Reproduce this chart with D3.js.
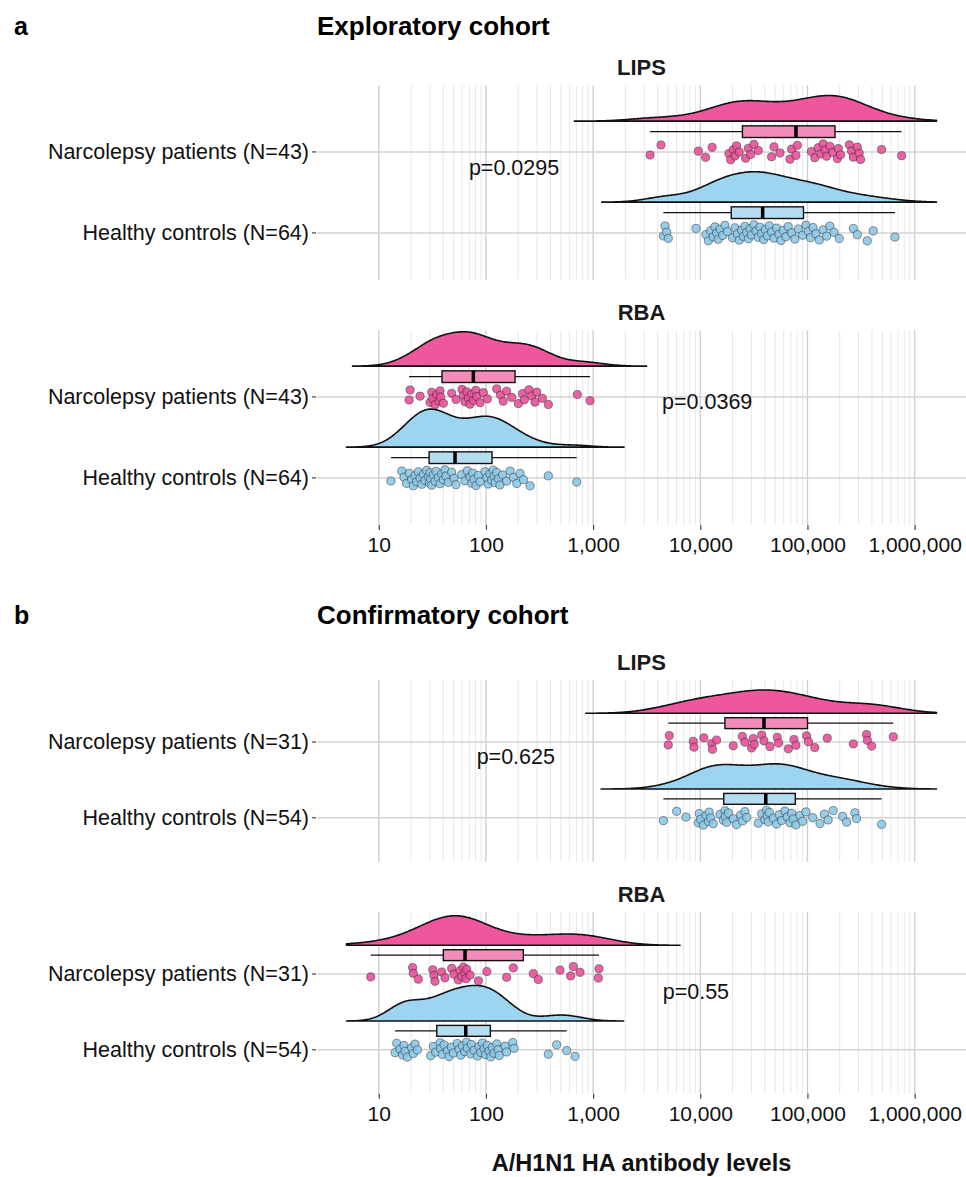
<!DOCTYPE html>
<html>
<head>
<meta charset="utf-8">
<script src="https://cdn.jsdelivr.net/npm/d3@7"></script>
<style>
  body { margin: 0; background: #fff; }
  text { font-family: "Liberation Sans", Arial, sans-serif; }
</style>
</head>
<body>
<div id="chart"></div>
<script>
// antibody levels (one value per subject)
const aLipsNarco = [3400, 4300, 9600, 11200, 12900, 18500, 19200, 20300, 21100, 21800, 23100, 26500, 28100, 29500, 31700, 34800, 46300, 48700, 55400, 68700, 71200, 78100, 80400, 109000, 117000, 126000, 133000, 140000, 146000, 151000, 162000, 172000, 190000, 194000, 204000, 246000, 258000, 268000, 292000, 304000, 313000, 492000, 756000];
const aLipsHealthy = [4520, 4690, 4860, 5030, 9120, 11300, 11900, 12500, 13200, 13700, 14200, 14700, 15300, 16200, 17000, 17900, 20000, 21100, 22200, 23100, 24300, 25200, 26100, 27100, 28100, 29100, 30100, 31700, 33100, 34800, 36100, 37400, 39000, 40400, 42200, 44100, 46300, 48700, 51600, 54200, 56600, 59500, 63000, 66200, 71200, 76400, 82200, 90200, 96800, 102000, 107000, 113000, 120000, 129000, 140000, 151000, 162000, 177000, 198000, 268000, 292000, 361000, 411000, 655000];
const aRbaNarco = [19.2, 19.6, 24.3, 30.1, 31.2, 31.9, 33.5, 34.7, 36.5, 37.3, 37.8, 40.1, 47.9, 52.6, 59.8, 61.6, 63.8, 66.2, 68.6, 71.1, 73.7, 76.3, 80.3, 82.0, 88.1, 94.6, 103, 126, 137, 145, 156, 174, 201, 220, 228, 252, 267, 287, 298, 336, 382, 713, 936];
const aRbaHealthy = [13.0, 16.4, 17.2, 18.2, 19.3, 20.3, 21.0, 21.8, 22.6, 23.4, 24.3, 25.2, 26.1, 27.0, 28.0, 29.0, 29.7, 30.1, 30.5, 31.2, 32.3, 33.5, 34.2, 36.0, 37.3, 38.7, 40.1, 41.5, 42.4, 44.6, 47.9, 50.4, 52.6, 59.4, 63.8, 67.1, 71.1, 73.7, 75.2, 77.4, 80.8, 85.0, 88.1, 98.1, 102, 105, 109, 113, 117, 119, 122, 126, 131, 135, 143, 156, 168, 180, 194, 208, 224, 258, 382, 703];
const bLipsNarco = [5030, 5140, 8610, 8740, 10800, 12800, 13000, 14200, 20300, 24700, 26100, 30100, 31200, 31900, 37400, 39300, 44700, 52300, 53800, 66300, 74800, 78100, 98200, 102000, 117000, 153000, 268000, 356000, 362000, 397000, 632000];
const bLipsHealthy = [4520, 6020, 7350, 9590, 9790, 10100, 10700, 11300, 11900, 12100, 12500, 13200, 15300, 16400, 17000, 17100, 17600, 18300, 20300, 21800, 23800, 24800, 26100, 27100, 34800, 37400, 40100, 41600, 42200, 43100, 44100, 48000, 51600, 54600, 57400, 61700, 64800, 68700, 71200, 73800, 78100, 85100, 90100, 96800, 112000, 131000, 144000, 156000, 174000, 213000, 232000, 277000, 287000, 492000];
const bRbaNarco = [8.42, 20.7, 21.0, 23.4, 31.9, 32.8, 33.5, 38.7, 41.5, 47.9, 50.4, 55.3, 57.3, 59.4, 61.6, 63.8, 65.2, 66.2, 71.1, 85.0, 102, 156, 180, 277, 308, 491, 618, 654, 755, 1119, 1135];
const bRbaHealthy = [14.2, 14.7, 15.8, 16.7, 17.2, 17.6, 18.5, 20.3, 21.0, 21.8, 22.9, 30.5, 32.3, 34.0, 37.3, 37.8, 39.2, 40.7, 43.7, 45.3, 47.6, 49.7, 54.1, 56.1, 58.2, 60.3, 63.4, 66.2, 67.1, 72.1, 73.1, 77.4, 83.2, 86.2, 89.4, 92.6, 96.0, 99.5, 103, 107, 111, 115, 119, 126, 130, 133, 151, 156, 178, 183, 382, 457, 567, 678];

const pLabels = ["p=0.0295", "p=0.0369", "p=0.625", "p=0.55"];
const tickValues = [10, 100, 1000, 10000, 100000, 1000000];
const limits = [5, 1600000];

// layout
const W = 966, H = 1177;
const panelLeft = 317, panelRight = 966;
const pink = {dens: "#ef579c", box: "#f48cbb", pt: "#e8519a"};
const blue = {dens: "#9dd4f0", box: "#b5ddf2", pt: "#8cc8e7"};

const svg = d3.select("#chart").append("svg")
    .attr("width", W)
    .attr("height", H);

// log x scale with 5% expansion on the limits
const lo = Math.log10(limits[0]), hi = Math.log10(limits[1]);
const pad = (hi - lo) * 0.05;
const x = d3.scaleLog()
    .domain([10 ** (lo - pad), 10 ** (hi + pad)])
    .range([panelLeft, panelRight]);

const minorBreaks = [];
for (let e = 1; e <= 5; e++) for (let k = 2; k <= 9; k++) minorBreaks.push(k * 10 ** e);

const gauss = u => Math.exp(-0.5 * u * u) / Math.sqrt(2 * Math.PI);

function densityOf(vals) {
  const lv = vals.map(Math.log10).sort(d3.ascending);
  const n = lv.length;
  const iqr = d3.quantile(lv, 0.75) - d3.quantile(lv, 0.25);
  const bw = 0.9 * Math.min(d3.deviation(lv), iqr / 1.34) * Math.pow(n, -0.2);
  const a = Math.max(lv[0] - 3 * bw, lo), b = Math.min(lv[n - 1] + 3 * bw, hi);
  return d3.range(256).map(i => {
    const t = a + (b - a) * i / 255;
    return [t, d3.sum(lv, v => gauss((t - v) / bw)) / (n * bw)];
  });
}

function boxOf(vals) {
  const lv = vals.map(Math.log10).sort(d3.ascending);
  const q1 = d3.quantile(lv, 0.25), med = d3.quantile(lv, 0.5), q3 = d3.quantile(lv, 0.75);
  const iqr = q3 - q1;
  const wlo = d3.min(lv.filter(v => v >= q1 - 1.5 * iqr));
  const whi = d3.max(lv.filter(v => v <= q3 + 1.5 * iqr));
  return [wlo, q1, med, q3, whi].map(v => 10 ** v);
}

// deterministic spread for the jittered points
const jit = i => ((i * 0.6180339887 + 0.31) % 1) * 2 - 1;

const cohorts = [
  {tag: "a", title: "Exploratory cohort", titleY: 26, unit: 81, facets: [
    {name: "LIPS", top: 85.5, narco: aLipsNarco, healthy: aLipsHealthy, p: 0, px: 183, py: 1.8},
    {name: "RBA", top: 330.5, narco: aRbaNarco, healthy: aRbaHealthy, p: 1, px: 11600, py: 1.94}
  ]},
  {tag: "b", title: "Confirmatory cohort", titleY: 615, unit: 75.7, facets: [
    {name: "LIPS", top: 680, narco: bLipsNarco, healthy: bLipsHealthy, p: 2, px: 190, py: 1.8},
    {name: "RBA", top: 912, narco: bRbaNarco, healthy: bRbaHealthy, p: 3, px: 9100, py: 1.76}
  ]}
];

cohorts.forEach(co => {
  svg.append("text")
    .attr("x", 14).attr("y", co.titleY)
    .attr("dominant-baseline", "central")
    .style("font-size", "25px").style("font-weight", "bold")
    .text(co.tag);
  svg.append("text")
    .attr("x", panelLeft).attr("y", co.titleY)
    .attr("dominant-baseline", "central")
    .style("font-size", "26px").style("font-weight", "bold")
    .text(co.title);

  // violins share one area scale across the cohort
  co.facets.forEach(f => {
    f.groups = [
      {label: "Healthy controls", vals: f.healthy, pos: 1, col: blue},
      {label: "Narcolepsy patients", vals: f.narco, pos: 2, col: pink}
    ];
    f.groups.forEach(gr => { gr.dens = densityOf(gr.vals); gr.box = boxOf(gr.vals); });
  });
  const maxD = d3.max(co.facets.flatMap(f => f.groups.flatMap(gr => gr.dens.map(d => d[1]))));

  co.facets.forEach((f, fi) => {
    const bottom = f.top + 2.4 * co.unit;
    const y = d3.scaleLinear().domain([0.42, 2.82]).range([bottom, f.top]);
    const g = svg.append("g");

    // strip title
    g.append("text")
      .attr("x", (panelLeft + panelRight) / 2).attr("y", f.top - 18)
      .attr("text-anchor", "middle").attr("dominant-baseline", "central")
      .style("font-size", "22px").style("font-weight", "bold").style("fill", "#1a1a1a")
      .text(f.name);

    // grid
    g.selectAll(".minor").data(minorBreaks).enter().append("line")
      .attr("x1", d => x(d)).attr("x2", d => x(d))
      .attr("y1", f.top).attr("y2", bottom)
      .attr("stroke", "#e4e4e4").attr("stroke-width", 0.9);
    g.selectAll(".major").data(tickValues).enter().append("line")
      .attr("x1", d => x(d)).attr("x2", d => x(d))
      .attr("y1", f.top).attr("y2", bottom)
      .attr("stroke", "#cfcfcf").attr("stroke-width", 1.4);
    g.selectAll(".hgrid").data(f.groups).enter().append("line")
      .attr("x1", panelLeft).attr("x2", panelRight)
      .attr("y1", d => y(d.pos)).attr("y2", d => y(d.pos))
      .attr("stroke", "#d3d3d3").attr("stroke-width", 1.5);

    // y labels and ticks
    g.selectAll(".ylab").data(f.groups).enter().append("text")
      .attr("x", 309).attr("y", d => y(d.pos))
      .attr("text-anchor", "end").attr("dominant-baseline", "central")
      .style("font-size", "21.5px").style("fill", "#111")
      .text(d => `${d.label} (N=${d.vals.length})`);
    g.selectAll(".ytick").data(f.groups).enter().append("line")
      .attr("x1", 312).attr("x2", 316)
      .attr("y1", d => y(d.pos)).attr("y2", d => y(d.pos))
      .attr("stroke", "#444").attr("stroke-width", 1.2);

    f.groups.forEach(gr => {
      const base = y(gr.pos + 0.38);
      const area = d3.area()
        .x(d => x(10 ** d[0]))
        .y0(base)
        .y1(d => y(gr.pos + 0.38 + d[1] / maxD * 0.47));
      g.append("path")
        .attr("d", area(gr.dens))
        .attr("fill", gr.col.dens)
        .attr("stroke", "#111").attr("stroke-width", 1.6)
        .attr("stroke-linejoin", "round");

      // box
      const [wlo, q1, med, q3, whi] = gr.box;
      const cy = y(gr.pos + 0.25), hh = 0.072 * co.unit;
      g.append("line").attr("x1", x(wlo)).attr("x2", x(q1)).attr("y1", cy).attr("y2", cy)
        .attr("stroke", "#111").attr("stroke-width", 1.4);
      g.append("line").attr("x1", x(q3)).attr("x2", x(whi)).attr("y1", cy).attr("y2", cy)
        .attr("stroke", "#111").attr("stroke-width", 1.4);
      g.append("rect")
        .attr("x", x(q1)).attr("y", cy - hh)
        .attr("width", x(q3) - x(q1)).attr("height", 2 * hh)
        .attr("fill", gr.col.box).attr("stroke", "#111").attr("stroke-width", 1.4);
      g.append("line").attr("x1", x(med)).attr("x2", x(med)).attr("y1", cy - hh).attr("y2", cy + hh)
        .attr("stroke", "#000").attr("stroke-width", 3.5);

      // points
      g.selectAll(null).data(gr.vals).enter().append("circle")
        .attr("cx", d => x(d))
        .attr("cy", (d, i) => y(gr.pos + jit(i) * 0.1))
        .attr("r", 4.1)
        .attr("fill", gr.col.pt).attr("fill-opacity", 0.9)
        .attr("stroke", "#222").attr("stroke-opacity", 0.6).attr("stroke-width", 0.8);
    });

    // p value
    g.append("text")
      .attr("x", x(f.px)).attr("y", y(f.py))
      .attr("text-anchor", "middle").attr("dominant-baseline", "central")
      .style("font-size", "21.5px").style("fill", "#111")
      .text(pLabels[f.p]);

    // x axis under the lower facet only
    if (fi === co.facets.length - 1) {
      const ax = g.append("g")
        .attr("transform", `translate(0,${bottom})`)
        .call(d3.axisBottom(x).tickValues(tickValues).tickFormat(d3.format(",")).tickSize(5).tickPadding(7));
      ax.select(".domain").remove();
      ax.selectAll(".tick line").attr("stroke", "#444").attr("stroke-width", 1.2);
      ax.selectAll(".tick text")
        .style("font-size", "21px").style("fill", "#111")
        .style("font-family", "'Liberation Sans', Arial, sans-serif");
    }
  });
});

// x-axis title
svg.append("text")
  .attr("x", (panelLeft + panelRight) / 2).attr("y", 1163)
  .attr("text-anchor", "middle").attr("dominant-baseline", "central")
  .style("font-size", "23.5px").style("font-weight", "bold").style("fill", "#111")
  .text("A/H1N1 HA antibody levels");
</script>
</body>
</html>
